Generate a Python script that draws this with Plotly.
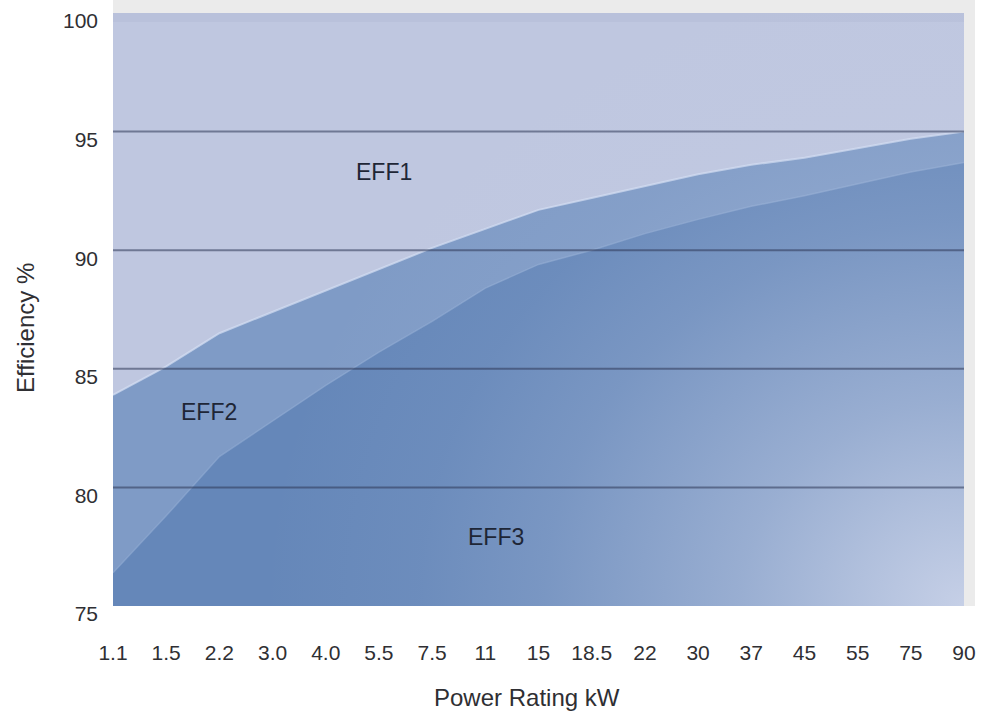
import plotly.graph_objects as go

# Motor power ratings (kW) shown along the x axis
ratings = ["1.1", "1.5", "2.2", "3.0", "4.0", "5.5", "7.5", "11", "15", "18.5",
           "22", "30", "37", "45", "55", "75", "90"]

# Efficiency class limits (%) at each rating
eff1_lower = [83.9, 85.1, 86.5, 87.4, 88.3, 89.2, 90.1, 90.9, 91.7, 92.2,
              92.7, 93.2, 93.6, 93.9, 94.3, 94.7, 95.0]
eff2_lower = [76.4, 78.8, 81.3, 82.8, 84.3, 85.7, 87.0, 88.4, 89.4, 90.0,
              90.7, 91.3, 91.85, 92.3, 92.8, 93.3, 93.7]

y_ticks = [75, 80, 85, 90, 95, 100]
class_names = ["EFF1", "EFF2", "EFF3"]

# ---- layout geometry ----
W, H = 987, 711
ML, MR, MT, MB = 113, 23, 13, 105
PW, PH = W - ML - MR, H - MT - MB
X_MIN, X_MAX = 0, len(ratings) - 1
Y_MIN, Y_MAX = y_ticks[0], y_ticks[-1]

FONT = "Liberation Sans, Arial, Helvetica, sans-serif"
TEXT = "#2f2f33"

idx = list(range(len(ratings)))

fig = go.Figure()

# EFF2 band (everything below the EFF1 limit)
fig.add_trace(go.Scatter(
    x=idx, y=eff1_lower, mode="lines", fill="tozeroy",
    fillcolor="#7f9bc6",
    line=dict(color="rgba(214,224,244,0.7)", width=2),
    hoverinfo="skip", showlegend=False,
))

# EFF3 band (below the EFF2 limit)
fig.add_trace(go.Scatter(
    x=idx, y=eff2_lower, mode="lines", fill="tozeroy",
    fillcolor="#6587b9",
    line=dict(color="rgba(150,174,214,0.55)", width=1.5),
    hoverinfo="skip", showlegend=False,
))

# soft light glow spreading from the lower-right corner
ux = PW / (X_MAX - X_MIN)
uy = PH / (Y_MAX - Y_MIN)
hx, hy = 700 / ux, 640 / uy
gx = [X_MAX - hx, X_MAX + hx, X_MAX + hx, X_MAX - hx, X_MAX - hx]
gy = [Y_MIN - hy, Y_MIN - hy, Y_MIN + hy, Y_MIN + hy, Y_MIN - hy]
glow = "205,213,234"
fig.add_trace(go.Scatter(
    x=gx, y=gy, mode="none", fill="toself",
    fillgradient=dict(
        type="radial",
        colorscale=[
            [0.0, f"rgba({glow},0.93)"],
            [0.16, f"rgba({glow},0.72)"],
            [0.32, f"rgba({glow},0.50)"],
            [0.45, f"rgba({glow},0.36)"],
            [0.60, f"rgba({glow},0.20)"],
            [0.78, f"rgba({glow},0.07)"],
            [1.0, f"rgba({glow},0.0)"],
        ],
    ),
    hoverinfo="skip", showlegend=False,
))

shapes = [
    # faint drop shadow behind the panel
    dict(type="rect", xref="paper", yref="paper",
         x0=0, x1=(975 - ML) / PW, y0=0, y1=(H - MB) / PH,
         fillcolor="#ebebeb", line=dict(width=0), layer="below"),
    # panel (EFF1 region)
    dict(type="rect", xref="paper", yref="paper", x0=0, x1=1, y0=0, y1=1,
         fillcolor="#bfc7e0", line=dict(width=0), layer="below"),
    # slightly darker strip along the panel top
    dict(type="rect", xref="paper", yref="paper", x0=0, x1=1,
         y0=1 - 9 / PH, y1=1,
         fillcolor="rgba(150,158,185,0.13)", line=dict(width=0), layer="below"),
]
for v in y_ticks[1:-1]:
    shapes.append(dict(type="line", xref="paper", yref="y", x0=0, x1=1, y0=v, y1=v,
                       line=dict(color="rgba(45,55,85,0.55)", width=2), layer="above"))

annotations = []
label_pos = {"EFF1": (5.1, 93.3), "EFF2": (1.8, 83.2), "EFF3": (7.2, 77.9)}
for name in class_names:
    lx, ly = label_pos[name]
    annotations.append(dict(x=lx, y=ly, xref="x", yref="y", text=name,
                            showarrow=False, xanchor="center", yanchor="middle",
                            font=dict(family=FONT, size=23, color="#1e2636")))

# axis titles
annotations.append(dict(text="Efficiency %", xref="paper", yref="paper",
                        x=(25 - ML) / PW, y=(H - MB - 328) / PH, textangle=-90,
                        showarrow=False, xanchor="center", yanchor="middle",
                        font=dict(family=FONT, size=24, color=TEXT)))
annotations.append(dict(text="Power Rating kW", xref="paper", yref="paper",
                        x=(527 - ML) / PW, y=(H - MB - 697) / PH,
                        showarrow=False, xanchor="center", yanchor="middle",
                        font=dict(family=FONT, size=24, color=TEXT)))

fig.update_layout(
    width=W, height=H,
    margin=dict(l=ML, r=MR, t=MT, b=MB, pad=0, autoexpand=False),
    paper_bgcolor="white",
    plot_bgcolor="rgba(0,0,0,0)",
    shapes=shapes,
    annotations=annotations,
    showlegend=False,
    hovermode=False,
)

fig.update_xaxes(
    range=[X_MIN, X_MAX], tickmode="array", tickvals=idx, ticktext=ratings,
    showgrid=False, zeroline=False, showline=False, ticks="",
    ticklabelstandoff=32, automargin=False,
    tickfont=dict(family=FONT, size=21, color=TEXT),
)
fig.update_yaxes(
    range=[Y_MIN, Y_MAX], tickmode="array", tickvals=y_ticks,
    showgrid=False, zeroline=False, showline=False, ticks="",
    ticklabelstandoff=14, ticklabelshift=8, automargin=False,
    tickfont=dict(family=FONT, size=21, color=TEXT),
)

fig.write_html("out.html")
